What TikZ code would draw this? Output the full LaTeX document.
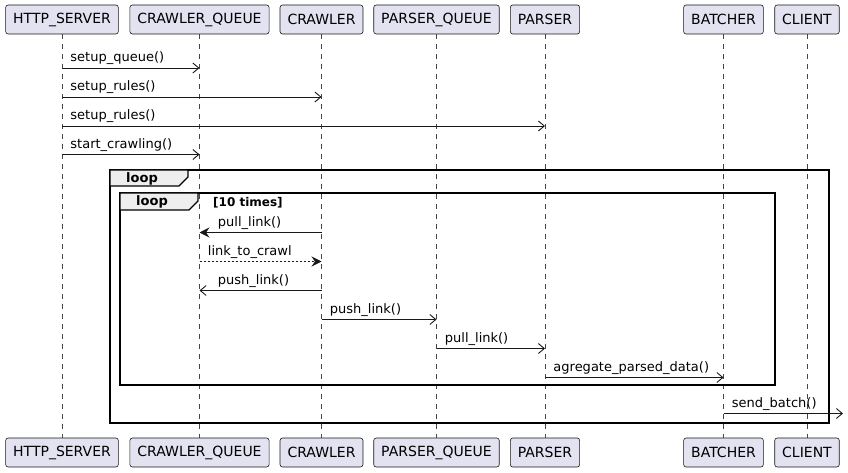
\documentclass[tikz,border=0pt]{standalone}
\usepackage{fontspec}
\setmainfont{DejaVu Sans}
\usepackage{tikz}
\usepackage{xcolor}
\usetikzlibrary{arrows.meta}
\definecolor{part-fill}{HTML}{E2E2F0}
\definecolor{part-line}{HTML}{181818}
\definecolor{tab-fill}{HTML}{EEEEEE}
\tikzset{
    participant/.style = {draw=part-line, fill=part-fill, line width=0.6pt, rectangle, rounded corners=2.5pt, minimum height=29pt, inner xsep=7.5pt, font=\fontsize{14}{16}\selectfont},
    lifeline/.style = {draw=part-line!80, line width=0.5pt, dash pattern=on 5pt off 5pt},
    msg/.style = {draw=part-line, line width=0.9pt, -{Straight Barb[length=6pt,width=10pt,line width=0.9pt]}},
    msg-filled/.style = {draw=part-line, line width=0.9pt, -{Stealth[length=10pt,width=10pt,inset=3.5pt]}},
    msg-label/.style = {anchor=base west, inner sep=0pt, yshift=6pt, font=\fontsize{13}{15}\selectfont},
    frame/.style = {draw=black, line width=1.6pt},
    frame-tab/.style = {draw=black, fill=tab-fill, line width=1.2pt},
    frame-title/.style = {font=\bfseries\fontsize{13}{15}\selectfont, inner sep=0pt},
}

\begin{document}
\begin{tikzpicture}[x=1pt, y=-1pt]
\useasboundingbox (0,0) rectangle (848,473);
% participants, top and bottom
\foreach \name/\x/\txt in {server/62/HTTP\_SERVER, cqueue/199.5/CRAWLER\_QUEUE, crawler/321.5/CRAWLER,
        pqueue/436.5/PARSER\_QUEUE, parser/545/PARSER, batcher/723.5/BATCHER, client/807/CLIENT} {
    \node[participant] (\name-top) at (\x,19.5) {\txt};
    \node[participant] (\name-bot) at (\x,452.5) {\txt};
    \draw[lifeline] (\name-top.south) -- (\name-bot.north);
}

% loop frames
\draw[frame] (110,170) rectangle (829,423);
\draw[frame-tab] (110,170) -- (188,170) -- (188,177) -- (179,186) -- (110,186) -- cycle;
\node[frame-title] (outer-loop) at (142,178.5) {loop};
\draw[frame] (120,193) rectangle (775,385);
\draw[frame-tab] (120,193) -- (198,193) -- (198,201) -- (189,210) -- (120,210) -- cycle;
\node[frame-title] (inner-loop) at (152,201.5) {loop};
\node[font=\bfseries\fontsize{12}{14}\selectfont, anchor=base west, inner sep=0pt] (times) at (213,206) {[10 times]};

% messages
\draw[msg] (server-top |- 0,68) -- (cqueue-top |- 0,68) node[msg-label, pos=0, xshift=8pt] {setup\_queue()};
\draw[msg] (server-top |- 0,97) -- (crawler-top |- 0,97) node[msg-label, pos=0, xshift=8pt] {setup\_rules()};
\draw[msg] (server-top |- 0,126) -- (parser-top |- 0,126) node[msg-label, pos=0, xshift=8pt] {setup\_rules()};
\draw[msg] (server-top |- 0,154.5) -- (cqueue-top |- 0,154.5) node[msg-label, pos=0, xshift=8pt] {start\_crawling()};

\draw[msg-filled] (crawler-top |- 0,232.5) -- (cqueue-top |- 0,232.5) node[msg-label, pos=1, xshift=18pt] {pull\_link()};
\draw[msg-filled, dash pattern=on 2pt off 2pt] (cqueue-top |- 0,261.5) -- (crawler-top |- 0,261.5) node[msg-label, pos=0, xshift=8pt] {link\_to\_crawl};
\draw[msg] (crawler-top |- 0,290.5) -- (cqueue-top |- 0,290.5) node[msg-label, pos=1, xshift=18pt] {push\_link()};
\draw[msg] (crawler-top |- 0,319.5) -- (pqueue-top |- 0,319.5) node[msg-label, pos=0, xshift=8pt] {push\_link()};
\draw[msg] (pqueue-top |- 0,348.5) -- (parser-top |- 0,348.5) node[msg-label, pos=0, xshift=8pt] {pull\_link()};
\draw[msg] (parser-top |- 0,377.5) -- (batcher-top |- 0,377.5) node[msg-label, pos=0, xshift=8pt] {agregate\_parsed\_data()};

\coordinate (outside) at (843,413.5);
\draw[msg] (batcher-top |- outside) -- (outside) node[msg-label, pos=0, xshift=8pt] {send\_batch()};
\end{tikzpicture}
\end{document}
